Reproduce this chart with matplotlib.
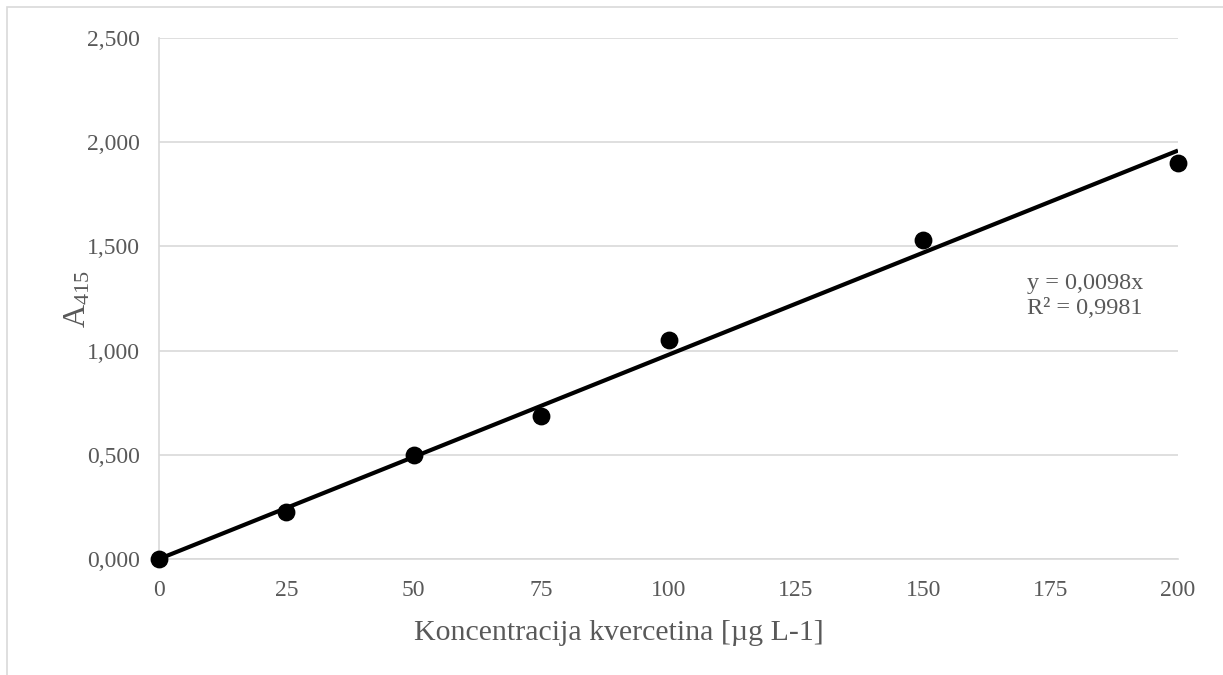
import matplotlib.pyplot as plt
from matplotlib.ticker import FuncFormatter
from matplotlib.patches import Rectangle

# podaci za kalibracijsku krivulju
koncentracija = [0, 25, 50, 75, 100, 150, 200]
apsorbancija = [0.0, 0.225, 0.497, 0.688, 1.051, 1.530, 1.899]
nagib = 0.0098
x_ticks = [0, 25, 50, 75, 100, 125, 150, 175, 200]
y_ticks = [0.0, 0.5, 1.0, 1.5, 2.0, 2.5]

plt.rcParams['font.family'] = ['Liberation Serif', 'DejaVu Serif']
plt.rcParams['mathtext.fontset'] = 'custom'
plt.rcParams['mathtext.rm'] = 'Liberation Serif'
plt.rcParams['mathtext.it'] = 'Liberation Serif'

siva = '#595959'
mreza = '#d9d9d9'

fig = plt.figure(figsize=(12.23, 6.75), dpi=100)
ax = fig.add_axes([159 / 1223, 116 / 675, (1178 - 159) / 1223, (559 - 38) / 675])

# okvir grafikona
fig.patches.append(Rectangle((7 / 1223, -0.1), 1.2, (675 - 7) / 675 + 0.1,
                             transform=fig.transFigure, fill=False,
                             edgecolor=mreza, lw=1.2))

ax.scatter(koncentracija, apsorbancija, s=140, color='black', zorder=4, clip_on=False)
ax.plot([koncentracija[0], koncentracija[-1]],
        [nagib * koncentracija[0], nagib * koncentracija[-1]],
        color='black', lw=3, zorder=3, solid_capstyle='butt')

ax.set_xlim(0, 200)
ax.set_ylim(0, 2.5)
ax.set_xticks(x_ticks)
ax.set_yticks(y_ticks)
ax.yaxis.set_major_formatter(FuncFormatter(lambda v, p: f'{v:.3f}'.replace('.', ',')))
ax.grid(axis='y', color=mreza, lw=1.2)
ax.set_axisbelow(True)
for s in ['top', 'right']:
    ax.spines[s].set_visible(False)
ax.spines['left'].set_color(mreza)
ax.spines['bottom'].set_color(mreza)
ax.spines['left'].set_linewidth(1.2)
ax.spines['bottom'].set_linewidth(1.2)
ax.tick_params(length=0, labelsize=17, colors=siva)
ax.tick_params(axis='x', pad=15)
ax.tick_params(axis='y', pad=14)

ax.set_xlabel('Koncentracija kvercetina [µg L-1]', fontsize=21.5, color=siva,
              labelpad=14, x=0.451)
ax.set_ylabel(r'$\mathregular{A_{415}}$', fontsize=23, color=siva, labelpad=-4)

ax.text(170.4, 1.37, 'y = 0,0098x\nR² = 0,9981', fontsize=17.5, color=siva,
        ha='left', va='top', linespacing=1.25)

fig.savefig('out.png', dpi=100)
